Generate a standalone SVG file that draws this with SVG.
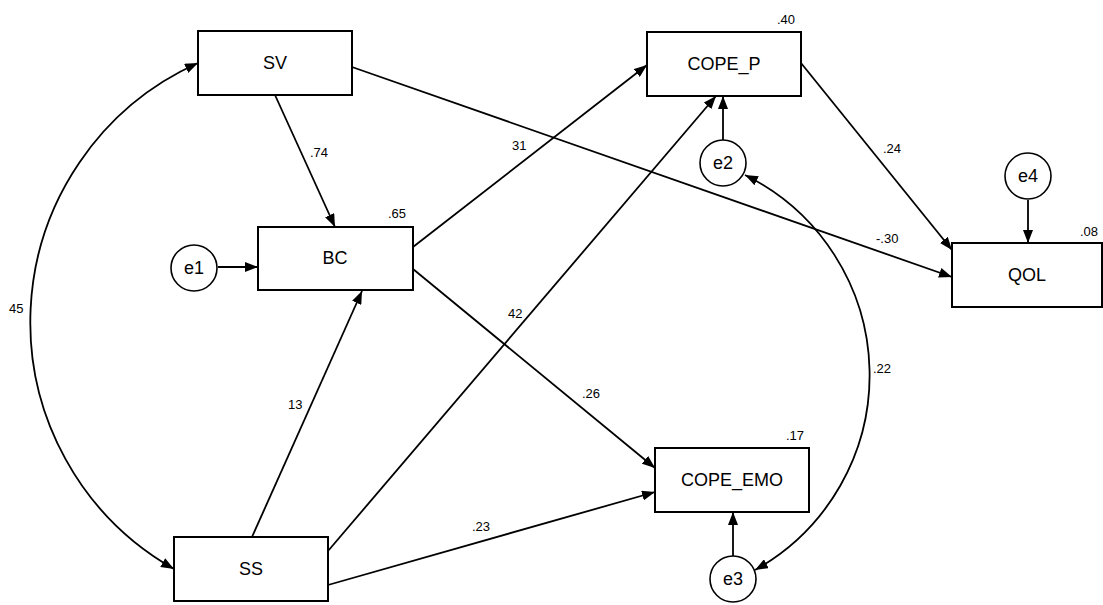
<svg xmlns="http://www.w3.org/2000/svg" width="1103" height="605" viewBox="0 0 1103 605">
<style>
.box{fill:#fff;stroke:#000;stroke-width:2}
.err{fill:#fff;stroke:#000;stroke-width:1.6}
.lbl{font-family:"Liberation Sans",Arial,sans-serif;font-size:18px;fill:#000;text-anchor:middle;dominant-baseline:central}
.coef{font-family:"Liberation Sans",Arial,sans-serif;font-size:13px;fill:#000}
.edge{fill:none;stroke:#000;stroke-width:1.8;marker-end:url(#ah)}
.cov{fill:none;stroke:#000;stroke-width:1.8;marker-start:url(#ah);marker-end:url(#ah)}
</style>
<defs>
<marker id="ah" markerUnits="userSpaceOnUse" markerWidth="14" markerHeight="10" refX="13" refY="5" orient="auto-start-reverse">
<path d="M0,0 L13,5 L0,10 z" fill="#000"/>
</marker>
</defs>
<rect width="1103" height="605" fill="#fff"/>
<g id="connectors">
<path class="cov" d="M198,63 A284,284 0 0 0 174,569"/>
<path class="cov" d="M745,175 A223,223 0 0 1 755,570"/>
<line class="edge" x1="275" y1="95" x2="335" y2="227"/>
<line class="edge" x1="252" y1="537" x2="362" y2="291"/>
<line class="edge" x1="218" y1="267" x2="258" y2="267"/>
<line class="edge" x1="413" y1="247" x2="647" y2="65"/>
<line class="edge" x1="413" y1="269" x2="655" y2="468"/>
<line class="edge" x1="328" y1="551" x2="716" y2="96"/>
<line class="edge" x1="723" y1="140" x2="723" y2="96"/>
<line class="edge" x1="328" y1="585" x2="655" y2="492"/>
<line class="edge" x1="733" y1="556" x2="733" y2="512"/>
<line class="edge" x1="352" y1="67" x2="952" y2="277"/>
<line class="edge" x1="801" y1="63" x2="952" y2="250"/>
<line class="edge" x1="1028" y1="200" x2="1028" y2="243"/>
</g>
<g id="labels">
<text class="coef" x="310" y="157">.74</text>
<text class="coef" x="512" y="150">31</text>
<text class="coef" x="508" y="318">42</text>
<text class="coef" x="582" y="398">.26</text>
<text class="coef" x="288" y="409">13</text>
<text class="coef" x="472" y="531">.23</text>
<text class="coef" x="9" y="313">45</text>
<text class="coef" x="883" y="153">.24</text>
<text class="coef" x="876" y="243">-.30</text>
<text class="coef" x="873" y="373">.22</text>
<text class="coef" x="388" y="218">.65</text>
<text class="coef" x="777" y="24">.40</text>
<text class="coef" x="786" y="440">.17</text>
<text class="coef" x="1080" y="236">.08</text>
</g>
<g id="SV"><rect class="box" x="198" y="31" width="154" height="64"/><text class="lbl" x="275" y="63">SV</text></g>
<g id="BC"><rect class="box" x="258" y="227" width="155" height="63"/><text class="lbl" x="335" y="258">BC</text></g>
<g id="SS"><rect class="box" x="174" y="537" width="154" height="64"/><text class="lbl" x="251" y="569">SS</text></g>
<g id="COPE_P"><rect class="box" x="647" y="32" width="154" height="64"/><text class="lbl" x="724" y="64">COPE_P</text></g>
<g id="COPE_EMO"><rect class="box" x="655" y="448" width="154" height="64"/><text class="lbl" x="732" y="480">COPE_EMO</text></g>
<g id="QOL"><rect class="box" x="952" y="243" width="150" height="64"/><text class="lbl" x="1027" y="275">QOL</text></g>
<g id="e1"><circle class="err" cx="194" cy="268" r="23"/><text class="lbl" x="194" y="268">e1</text></g>
<g id="e2"><circle class="err" cx="723" cy="163" r="23"/><text class="lbl" x="723" y="163">e2</text></g>
<g id="e3"><circle class="err" cx="733" cy="579" r="23"/><text class="lbl" x="733" y="579">e3</text></g>
<g id="e4"><circle class="err" cx="1028" cy="176" r="23"/><text class="lbl" x="1028" y="176">e4</text></g>
</svg>
